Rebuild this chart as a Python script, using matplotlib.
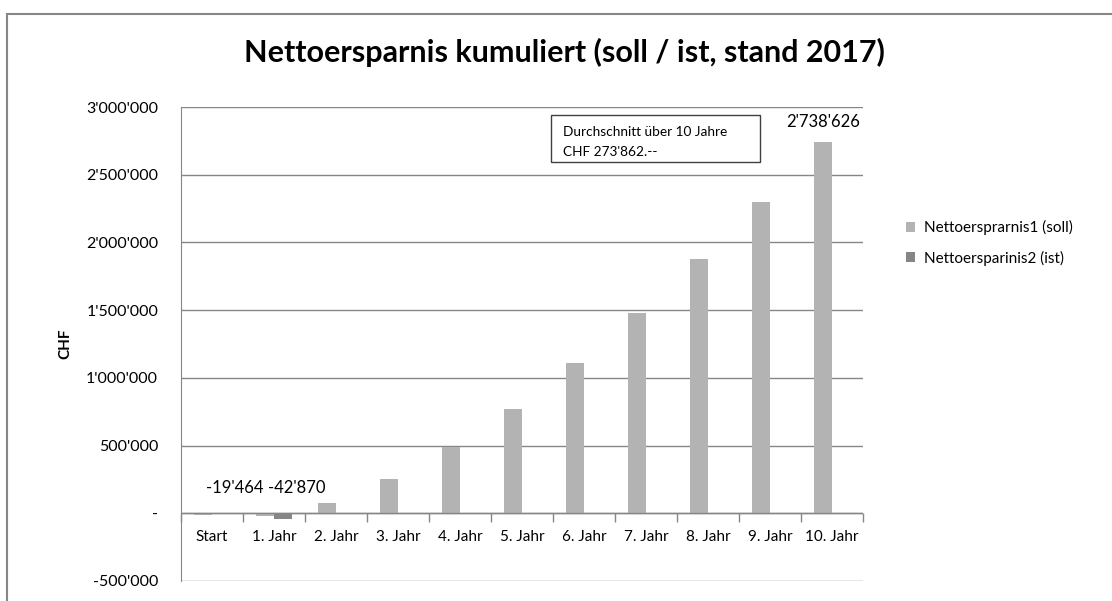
import numpy as np
import matplotlib
matplotlib.use("Agg")
import matplotlib.pyplot as plt
from matplotlib.patches import Rectangle
from matplotlib.ticker import FuncFormatter

plt.rcParams['font.family'] = ['Lato', 'DejaVu Sans']

categories = ["Start", "1. Jahr", "2. Jahr", "3. Jahr", "4. Jahr", "5. Jahr",
              "6. Jahr", "7. Jahr", "8. Jahr", "9. Jahr", "10. Jahr"]
soll = [-10000, -20000, 74000, 251000, 487000, 768000, 1108000, 1477000,
        1876000, 2297000, 2738626]
ist = [0, -42870, 0, 0, 0, 0, 0, 0, 0, 0, 0]
label_values = [-19464, -42870]
label_cats = [0, 1]
yticks = [-500000, 0, 500000, 1000000, 1500000, 2000000, 2500000, 3000000]


def chf(v, pos=None):
    if v == 0:
        return "-"
    s = f"{abs(int(v)):,}".replace(",", "'")
    return ("-" if v < 0 else "") + s


fig = plt.figure(figsize=(11.12, 6.01), dpi=100)
ax = fig.add_axes([181 / 1112, 1 - 581 / 601, 682 / 1112, (581 - 107) / 601])

x = np.arange(len(categories))
w = 0.29
ax.bar(x - w / 2, soll, w, color="#b3b3b3", label="Nettoersprarnis1 (soll)", zorder=3)
ax.bar(x + w / 2, ist, w, color="#868686", label="Nettoersparinis2 (ist)", zorder=3)

ax.set_xlim(-0.5, len(categories) - 0.5)
ax.set_ylim(-500000, 3000000)
ax.set_yticks(yticks)
ax.yaxis.set_major_formatter(FuncFormatter(chf))
ax.grid(axis="y", color="#868686", linewidth=1, zorder=0)
ax.tick_params(axis="y", length=0, pad=16.5, labelsize=11.5, colors="black")

for s in ["top", "right", "bottom"]:
    ax.spines[s].set_visible(False)
ax.spines["left"].set_color("#868686")

# category axis at zero, tick marks pointing down
ax.axhline(0, color="#868686", linewidth=1, zorder=4)
ax.set_xticks([])
bounds = np.arange(len(categories) + 1) - 0.5
ax.plot(bounds, np.zeros(len(bounds)), linestyle="none", marker=3, markersize=6.5,
        color="#868686", markeredgewidth=1, zorder=4, clip_on=False)
for i, c in enumerate(categories):
    ax.annotate(c, xy=(i, 0), xytext=(0, -24), textcoords="offset pixels",
                ha="center", va="center", fontsize=11)

ax.set_ylabel("CHF", fontweight="bold", fontsize=11, labelpad=10)

for i, v in zip(label_cats, label_values):
    ax.annotate(chf(v), xy=(i + 0.36, 0), xytext=(0, 25), textcoords="offset pixels",
                ha="center", va="center", fontsize=12)
ax.annotate(chf(soll[-1]), xy=(x[-1] - w / 2, soll[-1]), xytext=(0, 20),
            textcoords="offset pixels", ha="center", va="center", fontsize=12)

ax.add_patch(Rectangle((0.5425, 0.884), 0.3065, 0.099, transform=ax.transAxes,
                       facecolor="white", edgecolor="#404040", linewidth=1,
                       zorder=6, clip_on=False))
ax.text(0.56, 1 - (132 - 107) / 474, "Durchschnitt über 10 Jahre",
        transform=ax.transAxes, ha="left", va="center", fontsize=9.8, zorder=7)
ax.text(0.56, 1 - (152 - 107) / 474, "CHF 273'862.--",
        transform=ax.transAxes, ha="left", va="center", fontsize=9.8, zorder=7)

fig.text(0.508, 1 - 52 / 601, "Nettoersparnis kumuliert (soll / ist, stand 2017)",
         ha="center", va="center", fontsize=22, fontweight="bold")

ax.legend(loc="upper left", bbox_to_anchor=(1.043, 0.79), frameon=False,
          fontsize=11, handlelength=0.6, handleheight=0.6, labelspacing=1.0,
          handletextpad=0.6)

fig.patches.append(Rectangle((7 / 1112, -0.2), 1.3, 1 - 14 / 601 + 0.2,
                             transform=fig.transFigure, fill=False,
                             edgecolor="#868686", linewidth=1.5, zorder=0))

fig.savefig("out.png", dpi=100)
